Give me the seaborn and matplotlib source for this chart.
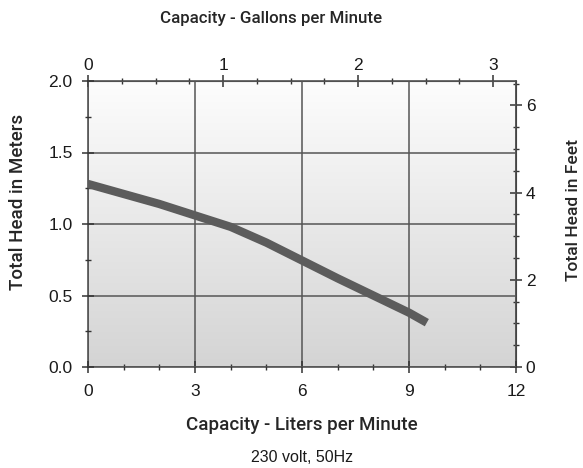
import numpy as np
import pandas as pd
import seaborn as sns
import matplotlib.pyplot as plt
from matplotlib.ticker import MultipleLocator, FormatStrFormatter

# pump curve
flow_lpm = [0, 1, 2, 3, 4, 5, 6, 7, 8, 9, 9.5]
head_m = [1.28, 1.21, 1.14, 1.06, 0.98, 0.87, 0.745, 0.62, 0.50, 0.38, 0.31]

gpm_ticks = [0, 1, 2, 3]
feet_ticks = [0, 2, 4, 6]

L_PER_GAL = 3.78541
FT_PER_M = 3.28084

sns.set_style("ticks")
plt.rcParams['font.family'] = ['Liberation Sans', 'DejaVu Sans']
plt.rcParams['text.color'] = '#1a1a1a'
plt.rcParams['xtick.color'] = '#333333'
plt.rcParams['ytick.color'] = '#333333'
plt.rcParams['xtick.labelcolor'] = '#1a1a1a'
plt.rcParams['ytick.labelcolor'] = '#1a1a1a'

# axis titles are a bit heavier than the tick labels
lab = dict(family=['Roboto', 'Liberation Sans'], fontweight='medium', va='center')

df = pd.DataFrame({"flow": flow_lpm, "head": head_m})

W, H = 583, 468
x0, x1, y0, y1 = 88, 516, 81, 367
fig = plt.figure(figsize=(W / 100, H / 100), dpi=100)
ax = fig.add_axes([x0 / W, 1 - y1 / H, (x1 - x0) / W, (y1 - y0) / H])

# gradient background
grad = np.linspace(0, 1, 256).reshape(-1, 1)
ax.imshow(grad, extent=[0, 12, 0, 2], aspect='auto', origin='upper',
          cmap=sns.blend_palette(['#fdfdfd', '#d4d4d4'], as_cmap=True), zorder=0)

sns.lineplot(data=df, x="flow", y="head", ax=ax, color='#5c5c5c', lw=6,
             solid_capstyle='butt', zorder=3)

ax.set_xlim(0, 12)
ax.set_ylim(0, 2)
ax.xaxis.set_major_locator(MultipleLocator(3))
ax.xaxis.set_minor_locator(MultipleLocator(1))
ax.yaxis.set_major_locator(MultipleLocator(0.5))
ax.yaxis.set_minor_locator(MultipleLocator(0.25))
ax.yaxis.set_major_formatter(FormatStrFormatter('%.1f'))
ax.grid(True, which='major', color='#555555', lw=1.1, zorder=1)
ax.set_axisbelow(False)

for s in ax.spines.values():
    s.set_color('#444444')
    s.set_linewidth(1.1)

ax.tick_params(which='major', direction='inout', length=8, width=1.1, labelsize=12.5)
ax.tick_params(axis='y', which='major', pad=7)
ax.tick_params(axis='x', which='major', pad=8)
ax.tick_params(which='minor', direction='inout', length=4, width=1.0)

ax.set_xlabel("Capacity - Liters per Minute", fontsize=13.5, **lab)
ax.xaxis.set_label_coords(0.5, (y1 - 425) / (y1 - y0))
ax.set_ylabel("Total Head in Meters", fontsize=13.5, **lab)
ax.yaxis.set_label_coords((18 - x0) / (x1 - x0), (y1 - 202) / (y1 - y0))

top = ax.secondary_xaxis('top', functions=(lambda x: x / L_PER_GAL, lambda g: g * L_PER_GAL))
top.set_xticks(gpm_ticks)
top.set_xticks(np.arange(0, 3.2, 0.25), minor=True)
top.tick_params(which='major', direction='inout', length=8, width=1.1, labelsize=12.5, pad=2)
top.tick_params(which='minor', direction='inout', length=4, width=1.0)
top.spines['top'].set_color('#444444')
top.set_xlabel("Capacity - Gallons per Minute", fontsize=12.2, **lab)
top.xaxis.set_label_coords((271 - x0) / (x1 - x0), (y1 - 19) / (y1 - y0), transform=ax.transAxes)

right = ax.secondary_yaxis('right', functions=(lambda m: m * FT_PER_M, lambda f: f / FT_PER_M))
right.set_yticks(feet_ticks)
right.set_yticks(np.arange(0, 6.6, 0.5), minor=True)
right.tick_params(which='major', direction='inout', length=8, width=1.1, labelsize=12.5, pad=3)
right.tick_params(which='minor', direction='inout', length=4, width=1.0)
right.spines['right'].set_color('#444444')
right.set_ylabel("Total Head in Feet", fontsize=12.5, **lab)
right.yaxis.set_label_coords((573 - x0) / (x1 - x0), (y1 - 210) / (y1 - y0), transform=ax.transAxes)

fig.text((x0 + x1) / 2 / W, 1 - 457 / H, "230 volt, 50Hz", ha='center', va='center', fontsize=11.5)

fig.savefig("out.png", dpi=100)
